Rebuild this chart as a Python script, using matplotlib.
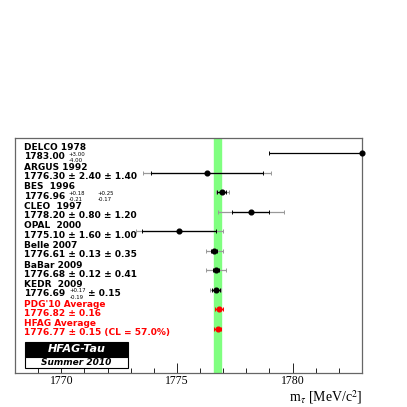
import matplotlib
matplotlib.use("Agg")
import matplotlib.pyplot as plt
from matplotlib.patches import Rectangle
import numpy as np

# mesures de la masse du tau
names = ['DELCO 1978', 'ARGUS 1992', 'BES  1996', 'CLEO  1997', 'OPAL  2000',
         'Belle 2007', 'BaBar 2009', 'KEDR  2009', "PDG'10 Average", 'HFAG Average']
values = [1783.00, 1776.30, 1776.96, 1778.20, 1775.10, 1776.61, 1776.68, 1776.69, 1776.82, 1776.77]
stat_plus = [3.00, 2.40, 0.18, 0.80, 1.60, 0.13, 0.12, 0.17, 0.16, 0.15]
stat_minus = [4.00, 2.40, 0.21, 0.80, 1.60, 0.13, 0.12, 0.19, 0.16, 0.15]
syst_plus = [0.0, 1.40, 0.25, 1.20, 1.00, 0.35, 0.41, 0.15, 0.0, 0.0]
syst_minus = [0.0, 1.40, 0.17, 1.20, 1.00, 0.35, 0.41, 0.15, 0.0, 0.0]
value_labels = ['1783.00', '1776.30 \u00b1 2.40 \u00b1 1.40', '1776.96',
                '1778.20 \u00b1 0.80 \u00b1 1.20', '1775.10 \u00b1 1.60 \u00b1 1.00',
                '1776.61 \u00b1 0.13 \u00b1 0.35', '1776.68 \u00b1 0.12 \u00b1 0.41',
                '1776.69', '1776.82 \u00b1 0.16', '1776.77 \u00b1 0.15 (CL = 57.0%)']
colors = ['black'] * 8 + ['red', 'red']
hfag_avg = 1776.77
hfag_err = 0.15

plt.rcParams['mathtext.fontset'] = 'stix'
fig = plt.figure(figsize=(4.07, 4.07), dpi=100)
ax = fig.add_axes([15 / 407, 34 / 407, 347 / 407, 235 / 407])

n = len(names)
ys = np.arange(n, 0, -1)

ax.axvspan(hfag_avg - hfag_err, hfag_avg + hfag_err, color='#80ff80', zorder=1)

for i in range(n):
    y = ys[i]
    c = colors[i]
    tp = np.hypot(stat_plus[i], syst_plus[i])
    tm = np.hypot(stat_minus[i], syst_minus[i])
    if syst_plus[i] > 0:
        ax.errorbar([values[i]], [y], xerr=[[tm], [tp]], fmt='none', ecolor='#999999',
                    elinewidth=0.9, capsize=1.5, capthick=0.7, zorder=2)
    ax.errorbar([values[i]], [y], xerr=[[stat_minus[i]], [stat_plus[i]]], fmt='none',
                ecolor=c, elinewidth=0.9, capsize=1.5, capthick=0.7, zorder=3)
    ax.plot([values[i]], [y], 'o', color=c, markersize=3.4, zorder=4, clip_on=False)

    ax.text(0.026, y + 0.27, names[i], transform=ax.get_yaxis_transform(),
            fontsize=6.5, fontweight='bold', color=c, va='center', ha='left')
    ax.text(0.026, y - 0.2, value_labels[i], transform=ax.get_yaxis_transform(),
            fontsize=6.5, fontweight='bold', color=c, va='center', ha='left')

# erreurs asymetriques
small = dict(fontsize=3.9, transform=ax.get_yaxis_transform(), va='center', ha='left')
ax.text(0.155, ys[0] - 0.05, '+3.00', **small)
ax.text(0.155, ys[0] - 0.37, '-4.00', **small)
ax.text(0.155, ys[2] - 0.05, '+0.18', **small)
ax.text(0.155, ys[2] - 0.37, '-0.21', **small)
ax.text(0.238, ys[2] - 0.05, '+0.25', **small)
ax.text(0.238, ys[2] - 0.37, '-0.17', **small)
ax.text(0.158, ys[7] - 0.05, '+0.17', **small)
ax.text(0.158, ys[7] - 0.37, '-0.19', **small)
ax.text(0.21, ys[7] - 0.2, '\u00b1 0.15', transform=ax.get_yaxis_transform(),
        fontsize=6.5, fontweight='bold', va='center', ha='left')

# cadre HFAG-Tau
ax.add_patch(Rectangle((0.029, 0.068), 0.297, 0.064, transform=ax.transAxes,
                       facecolor='black', edgecolor='black', lw=0.8, zorder=5))
ax.add_patch(Rectangle((0.029, 0.021), 0.297, 0.047, transform=ax.transAxes,
                       facecolor='white', edgecolor='black', lw=0.8, zorder=5))
ax.text(0.1775, 0.100, 'HFAG-Tau', transform=ax.transAxes, color='white', fontsize=8,
        fontweight='bold', fontstyle='italic', ha='center', va='center', zorder=6)
ax.text(0.1775, 0.045, 'Summer 2010', transform=ax.transAxes, color='black', fontsize=6.5,
        fontweight='bold', fontstyle='italic', ha='center', va='center', zorder=6)

ax.set_xlim(1768, 1783)
ax.set_ylim(-1.25, 10.77)
ax.set_xticks([1770, 1775, 1780])
ax.set_xticks(np.arange(1768, 1784, 1), minor=True)
ax.set_xticklabels(['1770', '1775', '1780'], fontfamily='Liberation Serif', fontsize=8.5)
ax.tick_params(axis='x', which='major', direction='in', length=7, width=0.6, pad=1.5)
ax.tick_params(axis='x', which='minor', direction='in', length=3.5, width=0.6)
ax.set_yticks([])
for s in ax.spines.values():
    s.set_color('#666666')
    s.set_linewidth(0.9)

fig.text(362 / 407, 1 - 397 / 407, r'm$_\tau$ [MeV/c$^2$]', fontfamily='Liberation Serif',
         fontsize=10, ha='right', va='center')

fig.savefig('out.png', dpi=100)
